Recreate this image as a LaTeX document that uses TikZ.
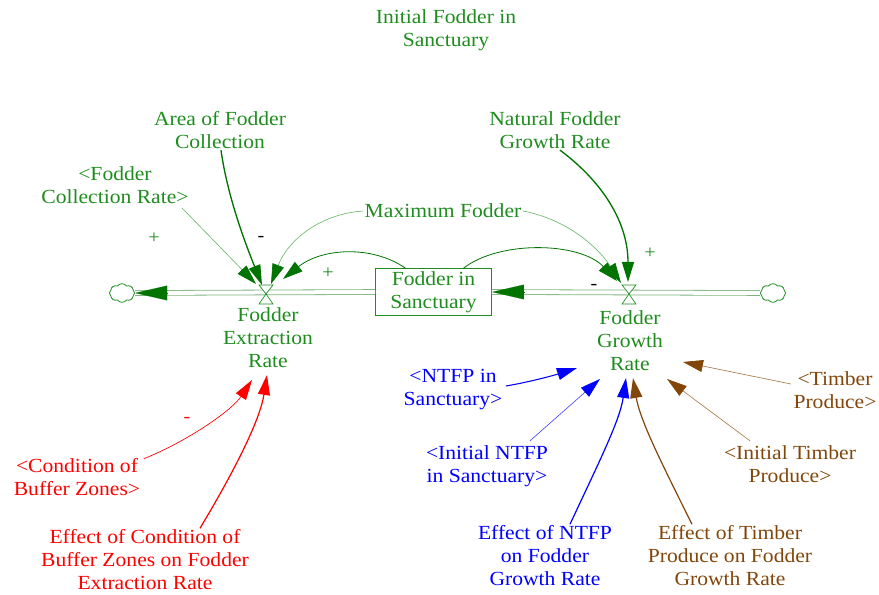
\documentclass[tikz,border=0pt]{standalone}
\usepackage{fontspec}
\setmainfont{Liberation Serif}[FakeStretch=1.08]
\usetikzlibrary{arrows.meta,shapes.symbols,calc}

\definecolor{tgreen}{RGB}{30,140,30}
\definecolor{dgreen}{RGB}{0,115,0}
\definecolor{lgreen}{RGB}{110,185,110}
\definecolor{pipec}{RGB}{125,180,125}
\definecolor{tred}{RGB}{255,0,0}
\definecolor{tblue}{RGB}{0,0,255}
\definecolor{tbrown}{RGB}{130,70,10}

\tikzset{
  lbl/.style={align=center, inner sep=1pt, font=\fontsize{15}{17.25}\selectfont},
  sign/.style={inner sep=0pt, font=\fontsize{14}{14}\selectfont},
  tip/.style={-{Triangle[length=15pt,width=9pt,color=#1]}},
  thickarr/.style={tip=#1, draw=#1, line width=1pt},
  medarr/.style={tip=#1, draw=#1, line width=0.6pt},
  thinarr/.style={tip=#1, line width=0.5pt},
  pipe/.style={draw=pipec, line width=0.6pt, double=white, double distance=3pt},
  pipetip/.style={draw=dgreen, line width=0.1pt, -{Triangle[length=24pt,width=11pt]}},
  cloudnode/.style={cloud, cloud puffs=8, cloud puff arc=110, draw=tgreen, line width=0.6pt,
    minimum width=19pt, minimum height=14pt, inner sep=0pt, aspect=1.4},
  valvetri/.style={draw=tgreen, fill=white, line width=0.5pt}
}

\begin{document}
\begin{tikzpicture}[x=0.75pt,y=-0.75pt]
\useasboundingbox (0,0) rectangle (879,595);

% ---- stock, clouds and valves
\node[draw=tgreen, line width=0.7pt, lbl, text=tgreen, minimum width=87pt, minimum height=35pt]
  (stock) at (433.5,292) {Fodder in\\Sanctuary};
\node[cloudnode] (cloudL) at (122,293) {};
\node[cloudnode] (cloudR) at (773,293) {};
\coordinate (valveL) at (266,294);
\coordinate (valveR) at (629,294);

% ---- flow pipes
\draw[pipe] (stock.west) -- (cloudL.east);
\draw[pipe] (cloudR.west) -- (stock.east);
\draw[pipetip] ($(cloudL.east)+(32,0)$) -- (cloudL.east);
\draw[pipetip] ($(stock.east)+(32,0)$) -- (stock.east);

% ---- valves (hourglass)
\foreach \v in {valveL,valveR}{
  \draw[valvetri] ($(\v)+(-7,-9)$) -- ($(\v)+(7,-9)$) -- (\v) -- cycle;
  \draw[valvetri] (\v) -- ($(\v)+(-7,10)$) -- ($(\v)+(7,10)$) -- cycle;
}

% ---- labels
\node[lbl, text=tgreen] (init)    at (446,30)  {Initial Fodder in\\Sanctuary};
\node[lbl, text=tgreen] (area)    at (220,130) {Area of Fodder\\Collection};
\node[lbl, text=tgreen] (nat)     at (555,130) {Natural Fodder\\Growth Rate};
\node[lbl, text=tgreen] (fcr)     at (115,185) {<Fodder\\Collection Rate>};
\node[lbl, text=tgreen] (maxf)    at (443,211) {Maximum Fodder};
\node[lbl, text=tgreen] (fer)     at (268,338) {Fodder\\Extraction\\Rate};
\node[lbl, text=tgreen] (fgr)     at (630,341) {Fodder\\Growth\\Rate};
\node[lbl, text=tblue]  (ntfp)    at (453,390) {<NTFP in\\Sanctuary>};
\node[lbl, text=tblue]  (intntfp) at (487,466) {<Initial NTFP\\in Sanctuary>};
\node[lbl, text=tblue]  (effn)    at (545,556) {Effect of NTFP\\on Fodder\\Growth Rate};
\node[lbl, text=tbrown] (efft)    at (730,556) {Effect of Timber\\Produce on Fodder\\Growth Rate};
\node[lbl, text=tbrown] (intt)    at (790,464) {<Initial Timber\\Produce>};
\node[lbl, text=tbrown] (timb)    at (835,390) {<Timber\\Produce>};
\node[lbl, text=tred]   (cond)    at (77,477)  {<Condition of\\Buffer Zones>};
\node[lbl, text=tred]   (effc)    at (145,560) {Effect of Condition of\\Buffer Zones on Fodder\\Extraction Rate};

% ---- arrow tip points at the valves and rates
\coordinate (vL1) at (256,284);
\coordinate (vL2) at (262,285);
\coordinate (vL3) at (271,284);
\coordinate (vL4) at (283,279);
\coordinate (vR1) at (617,281);
\coordinate (vR2) at (621,283);
\coordinate (vR3) at (628,282);
\coordinate (rE1) at (252,380);
\coordinate (rE2) at (267,375);
\coordinate (rG1) at (577,368);
\coordinate (rG2) at (600,379);
\coordinate (rG3) at (626,378);
\coordinate (rG4) at (633,378);
\coordinate (rG5) at (667,379);
\coordinate (rG6) at (683,362);

% ---- influences on the extraction rate
\draw[thinarr=dgreen, draw=lgreen] ($(fcr.south east)+(-8,3)$) -- (vL1);
\draw[thickarr=dgreen] ($(area.south)+(1,0)$) .. controls (228,200) and (248,250) .. (vL2);
\draw[thinarr=dgreen, draw=lgreen] (maxf.west) .. controls (320,214) and (288,240) .. (vL3);
\draw[medarr=dgreen] ($(stock.north)+(-28,0)$) .. controls (372,245) and (322,248) .. (vL4);
\draw[thinarr=tred, draw=tred] ($(cond.north east)+(2,2)$) .. controls (190,440) and (232,410) .. (rE1);
\draw[thickarr=tred, line width=0.9pt] ($(effc.north)+(55,0)$) .. controls (235,470) and (260,420) .. (rE2);

% ---- influences on the growth rate
\draw[medarr=dgreen] ($(stock.north)+(30,0)$) .. controls (500,240) and (580,242) .. (vR1);
\draw[thinarr=dgreen, draw=lgreen] (maxf.east) .. controls (570,220) and (600,250) .. (vR2);
\draw[thickarr=dgreen] ($(nat.south)+(5,0)$) .. controls (600,180) and (628,220) .. (vR3);
\draw[medarr=tblue, line width=0.8pt] ($(ntfp.east)+(2,-4)$) .. controls (530,382) and (555,375) .. (rG1);
\draw[thinarr=tblue, draw=tblue!70] ($(intntfp.north)+(43,-3)$) -- (rG2);
\draw[thickarr=tblue, line width=0.9pt] ($(effn.north)+(25,0)$) .. controls (600,460) and (620,420) .. (rG3);
\draw[thickarr=tbrown, line width=0.9pt] ($(efft.north)+(-38,0)$) .. controls (660,460) and (640,420) .. (rG4);
\draw[thinarr=tbrown, draw=tbrown!70] ($(intt.north)+(-40,-3)$) -- (rG5);
\draw[thinarr=tbrown, draw=tbrown!70] ($(timb.west)+(-1,-6)$) -- (rG6);

% ---- polarity signs
\node[sign, text=tgreen] (s1) at (154,238) {+};
\node[sign, text=black]  (s2) at (261,239) {-};
\node[sign, text=tgreen] (s3) at (328,273) {+};
\node[sign, text=black]  (s4) at (594,287) {-};
\node[sign, text=tgreen] (s5) at (650,253) {+};
\node[sign, text=tred]   (s6) at (187,420) {-};
\end{tikzpicture}
\end{document}
